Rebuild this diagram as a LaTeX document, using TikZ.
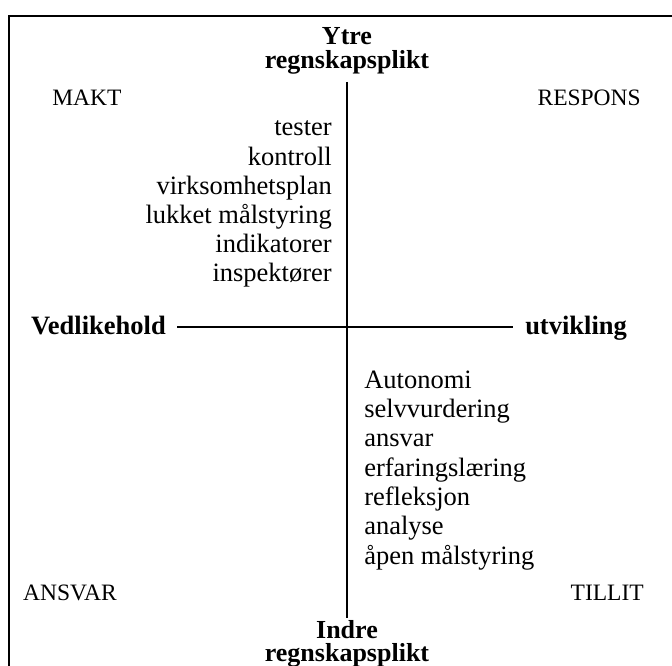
\documentclass[tikz,border=0pt]{standalone}
\usepackage{fontspec}
\setmainfont{Liberation Serif}
\begin{document}
\begin{tikzpicture}[x=1pt,y=-1pt,line width=2.5pt,
                    word/.style={inner sep=0pt,font=\fontsize{26.5}{29}\selectfont},
                    corner/.style={inner sep=0pt,font=\fontsize{23.5}{26}\selectfont},
                    axis/.style={inner sep=0pt,text height=19pt,text depth=4pt,
                                 font=\bfseries\fontsize{26.5}{22}\selectfont},
                    titel/.style={inner sep=0pt,align=center,
                                  font=\bfseries\fontsize{26}{23.5}\selectfont}]
\useasboundingbox (0,0) rectangle (672,666);
\clip (0,0) rectangle (672,666);
\draw[line width=2pt] (9,16) rectangle (700,700);

% akser
\node[titel,anchor=south] (ytre) at (347,75) {Ytre\\regnskapsplikt};
\node[titel,anchor=north] (indre) at (347,619) {Indre\\regnskapsplikt};
\node[axis,anchor=east] (vedl) at (167,327) {Vedlikehold};
\node[axis,anchor=west] (utv) at (524,327) {utvikling};

\draw[shorten <=7pt,shorten >=1pt] (ytre) -- (indre);
\draw[shorten <=10pt,shorten >=11pt] (vedl) -- (utv);

% hjorner
\node[corner,anchor=base west] (makt) at (51,106) {MAKT};
\node[corner,anchor=base east] (respons) at (642,106) {RESPONS};
\node[corner,anchor=base west] (ansvar) at (22,600) {ANSVAR};
\node[corner,anchor=base east] (tillit) at (645,600) {TILLIT};

% venstre liste
\node[word,anchor=base east] (l1) at (333,136) {tester};
\node[word,anchor=base east] (l2) at (333,165) {kontroll};
\node[word,anchor=base east] (l3) at (333,194) {virksomhetsplan};
\node[word,anchor=base east] (l4) at (333,223) {lukket målstyring};
\node[word,anchor=base east] (l5) at (333,252) {indikatorer};
\node[word,anchor=base east] (l6) at (333,281) {inspektører};

% hoyre liste
\node[word,anchor=base west] (r1) at (363,388) {Autonomi};
\node[word,anchor=base west] (r2) at (363,417) {selvvurdering};
\node[word,anchor=base west] (r3) at (363,446) {ansvar};
\node[word,anchor=base west] (r4) at (363,476) {erfaringslæring};
\node[word,anchor=base west] (r5) at (363,505) {refleksjon};
\node[word,anchor=base west] (r6) at (363,534) {analyse};
\node[word,anchor=base west] (r7) at (363,564) {åpen målstyring};

\end{tikzpicture}
\end{document}
